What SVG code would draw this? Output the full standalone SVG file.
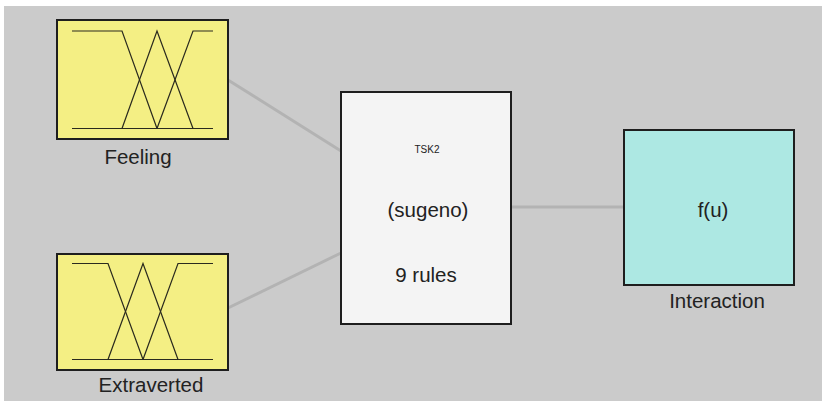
<svg xmlns="http://www.w3.org/2000/svg" width="822" height="401" viewBox="0 0 822 401">
  <style>
    .block { stroke: #1e1e1e; stroke-width: 2; }
    .input { fill: #f4ef84; }
    .rules { fill: #f4f4f4; }
    .output { fill: #ade8e3; }
    .mf { fill: none; stroke: #2a2a1e; stroke-width: 1.2; }
    .wire { stroke: #b3b3b3; stroke-width: 3; fill: none; }
    text { font-family: "Liberation Sans", Arial, sans-serif; fill: #222; text-anchor: middle; }
    .label { font-size: 20.5px; }
    .small { font-size: 10px; }
  </style>

  <rect x="0" y="0" width="822" height="401" fill="#ffffff"/>
  <rect x="4" y="6" width="818" height="395" fill="#cbcbcb"/>

  <g id="connectors">
    <line class="wire" x1="228" y1="80" x2="341" y2="151"/>
    <line class="wire" x1="228" y1="308" x2="341" y2="253"/>
    <line class="wire" x1="511" y1="207" x2="624" y2="207"/>
  </g>

  <g id="feeling">
    <rect class="block input" x="57" y="20" width="171" height="119"/>
    <line class="mf" x1="72" y1="128.5" x2="213" y2="128.5"/>
    <polyline class="mf" points="72,31 122,31 157,128.5"/>
    <polyline class="mf" points="122,128.5 157,31 193,128.5"/>
    <polyline class="mf" points="157,128.5 193,31 213,31"/>
    <text class="label" x="138" y="164">Feeling</text>
  </g>

  <g id="extraverted">
    <rect class="block input" x="57" y="254" width="171" height="116"/>
    <line class="mf" x1="72" y1="359.5" x2="213" y2="359.5"/>
    <polyline class="mf" points="72,263.5 108,263.5 143,359.5"/>
    <polyline class="mf" points="108,359.5 143,263.5 178,359.5"/>
    <polyline class="mf" points="143,359.5 178,263.5 213,263.5"/>
    <text class="label" x="151" y="392">Extraverted</text>
  </g>

  <g id="tsk2">
    <rect class="block rules" x="341" y="92" width="170" height="232"/>
    <text class="small" x="427" y="153">TSK2</text>
    <text class="label" x="428" y="217">(sugeno)</text>
    <text class="label" x="426" y="282">9 rules</text>
  </g>

  <g id="interaction">
    <rect class="block output" x="624" y="130" width="170" height="155"/>
    <text class="label" x="713" y="217">f(u)</text>
    <text class="label" x="717" y="308">Interaction</text>
  </g>
</svg>
